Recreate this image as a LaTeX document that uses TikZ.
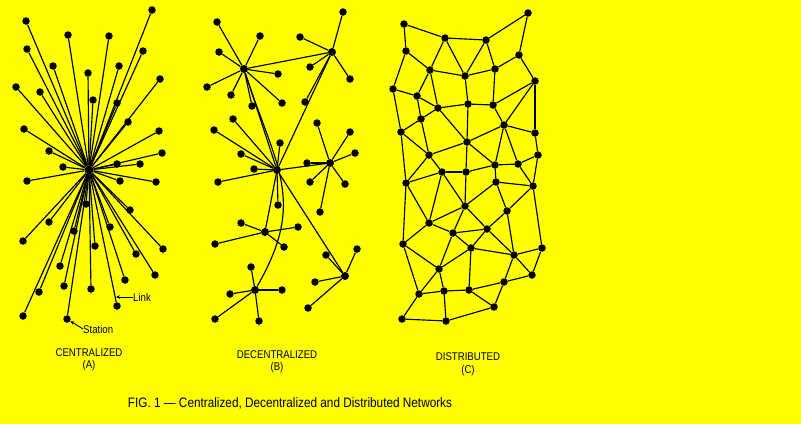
\documentclass[tikz,border=0pt]{standalone}
\usepackage{fontspec}
\setmainfont{Liberation Sans}
\newfontfamily\leroy[FakeStretch=0.86]{Liberation Sans}
\usetikzlibrary{arrows.meta}
\definecolor{paper}{HTML}{FFFF00}
\begin{document}
\begin{tikzpicture}[x=1pt,y=-1pt]
        \tikzset{
            station/.style={circle,fill=black,inner sep=0pt,minimum size=7.5pt},
            switch/.style={station,minimum size=8pt},
            link/.style={line width=1.15pt},
            lettering/.style={font=\leroy\fontsize{11.2}{12}\selectfont,inner sep=0pt},
            pointer/.style={line width=0.9pt,-{Stealth[length=4pt,width=3.5pt]}}
        }
        \path[use as bounding box,fill=paper] (0,0) rectangle (801,424);

        % centralized
        \node[switch,minimum size=9pt] (hubA) at (89,170) {};
        \foreach \x/\y [count=\i] in {26/21, 152/10, 68/35, 109/36, 27/49, 143/51, 53/66, 119/66,
                88/73, 16/87, 160/79, 40/92, 93/100, 117/103, 128/122, 24/129, 159/131, 49/151,
                162/153, 117/164, 140/164, 63/167, 27/181, 120/181, 156/182, 86/204, 130/210,
                49/222, 74/231, 110/227, 23/241, 95/246, 163/249, 136/254, 60/266, 155/275,
                125/280, 64/286, 91/289, 39/292, 117/306, 23/316, 67/319}{
                \node[station] (a\i) at (\x,\y) {};
                \draw[link] (hubA) -- (a\i);
            }

        \node[lettering,anchor=west] (linklbl) at (133,297) {Link};
        \coordinate (linkpt) at (116,297);
        \draw[pointer] (linklbl.west) -- (linkpt);
        \node[lettering,anchor=west] (stationlbl) at (83,329) {Station};
        \draw[pointer] (stationlbl.west) -- (a43);

        % decentralized
        \foreach \n/\x/\y in {B1/244/69, B2/332/52, B3/277/170, B4/330/163,
                B5/265/232, B6/345/276, B7/255/290}{
                \node[switch] (\n) at (\x,\y) {};
            }
        \foreach \h/\x/\y [count=\i] in {B1/217/22, B1/260/36, B1/219/52, B1/278/74, B1/207/87,
                B1/231/95, B1/252/106, B1/282/103,
                B2/343/12, B2/300/37, B2/310/67, B2/350/79, B2/305/102,
                B3/214/130, B3/233/119, B3/280/143, B3/241/154, B3/254/169, B3/218/182, B3/278/205,
                B4/317/123, B4/350/132, B4/355/153, B4/307/163, B4/310/182, B4/345/184, B4/320/212,
                B5/241/223, B5/298/227, B5/215/244, B5/284/247,
                B6/357/249, B6/326/255, B6/315/282, B6/308/308,
                B7/251/267, B7/230/294, B7/282/290, B7/215/319, B7/259/321}{
                \node[station] (b\i) at (\x,\y) {};
                \draw[link] (\h) -- (b\i);
            }
        \foreach \s/\t in {B1/B2, B1/B3, B2/B3, B3/B4, B3/B5, B3/B6}{
                \draw[link] (\s) -- (\t);
            }
        \draw[link] (B1) .. controls (276,168) and (307,200) .. (B7);

        % distributed
        \foreach \x/\y [count=\i] in {404/24, 528/13, 445/38, 486/40, 406/51, 519/55, 430/70,
                465/76, 495/69, 535/81, 393/89, 417/96, 438/108, 468/104, 493/105, 421/119,
                504/125, 401/132, 535/133, 467/142, 429/155, 538/155, 495/165, 518/164,
                442/172, 466/172, 406/183, 496/182, 533/186, 465/206, 507/211, 429/223,
                487/229, 453/233, 403/244, 471/248, 542/248, 514/255, 439/269, 532/275,
                504/282, 419/294, 444/291, 469/290, 494/307, 402/319, 446/321}{
                \node[station] (c\i) at (\x,\y) {};
            }
        \foreach \s/\t in {1/5, 1/3, 3/4, 4/2, 2/6, 6/10, 6/9, 3/7, 3/8, 4/8, 4/9, 5/7, 5/11,
                7/8, 8/9, 7/12, 7/13, 8/14, 9/15, 10/15, 10/17, 10/19, 11/12, 11/18, 12/13,
                12/16, 13/14, 14/15, 13/20, 14/20, 15/17, 16/18, 16/13, 16/21, 17/20, 17/19,
                17/23, 17/24, 18/21, 20/21, 19/22, 22/24, 23/24, 20/23,
                18/27, 21/27, 21/25, 20/26,
                23/26, 25/26, 23/28, 24/29, 22/29, 28/29, 25/27, 25/32, 25/30, 26/30, 28/30,
                28/31, 29/31, 29/37, 27/35, 27/32, 30/32, 30/33, 30/34, 31/33, 31/38, 32/34,
                33/34, 32/35, 33/36, 34/36, 33/38, 34/39, 35/39, 35/42, 36/38, 36/39, 36/44,
                37/38, 37/40, 38/40, 38/41, 39/42, 39/43, 40/41, 41/44, 41/45, 42/43, 43/44,
                44/45, 42/46, 43/47, 46/47, 47/45}{
                \draw[link] (c\s) -- (c\t);
            }

        \node[lettering] (titleA) at (89,353) {CENTRALIZED};
        \node[lettering] (markA) at (89,366) {(A)};
        \node[lettering] (titleB) at (277,355) {DECENTRALIZED};
        \node[lettering] (markB) at (277,368) {(B)};
        \node[lettering] (titleC) at (468,357) {DISTRIBUTED};
        \node[lettering] (markC) at (468,371) {(C)};

        \node[lettering,font=\leroy\fontsize{13.7}{14}\selectfont] (figcap) at (290,403)
            {FIG. 1 — Centralized, Decentralized and Distributed Networks};

    \end{tikzpicture}
\end{document}
